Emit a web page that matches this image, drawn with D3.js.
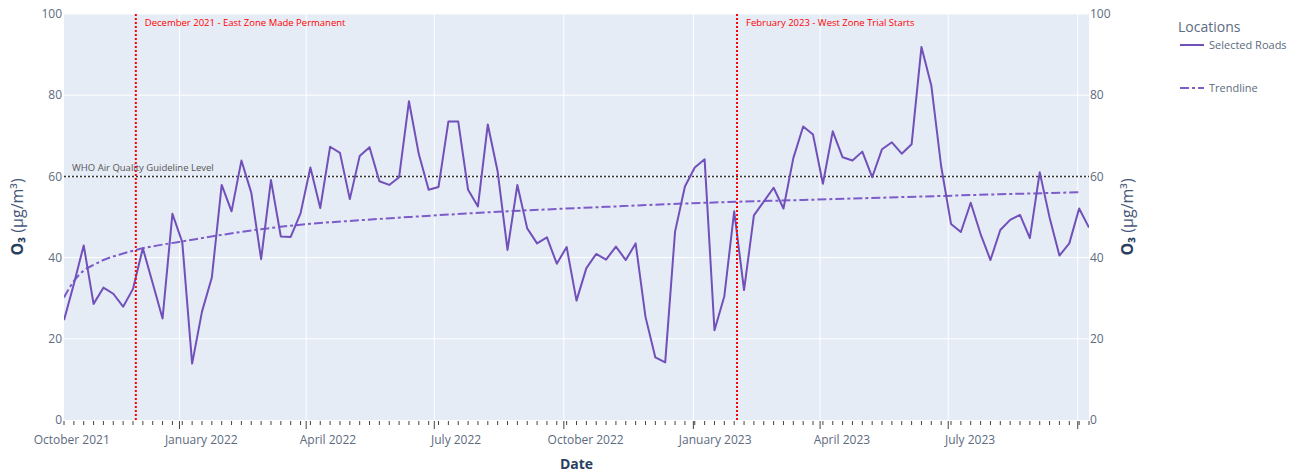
<!DOCTYPE html>
<meta charset="utf-8">
<script src="https://d3js.org/d3.v7.min.js"></script>
<style>
  body { margin: 0; background: #fff; }
  text { font-family: "Open Sans", sans-serif; }
</style>
<div id="my_dataviz"></div>
<script>

// weekly readings (Mondays), first and last week
var firstWeek = "2021-10-11",
    lastWeek = "2023-10-09";

// O3 weekly means, Selected Roads (µg/m3)
var o3 = [
  24.6, 33.5, 43.0, 28.6, 32.6, 31.1, 27.9, 32.3, 42.3, 33.7,
  25.0, 50.8, 43.8, 13.9, 26.7, 35.1, 57.9, 51.4, 63.9, 56.0,
  39.6, 59.1, 45.2, 45.1, 50.9, 62.2, 52.2, 67.3, 65.8, 54.4,
  65.0, 67.2, 58.8, 57.9, 59.8, 78.5, 65.5, 56.7, 57.4, 73.5,
  73.5, 56.7, 52.6, 72.8, 61.2, 41.9, 57.9, 47.2, 43.5, 45.0,
  38.5, 42.6, 29.4, 37.4, 40.9, 39.5, 42.7, 39.4, 43.5, 25.4,
  15.4, 14.2, 46.4, 57.5, 62.2, 64.2, 22.1, 30.5, 51.4, 32.0,
  50.4, 53.8, 57.2, 52.1, 64.5, 72.3, 70.3, 58.2, 71.1, 64.7,
  63.9, 66.1, 59.8, 66.7, 68.4, 65.6, 67.9, 91.9, 82.4, 62.5,
  48.3, 46.3, 53.5, 45.8, 39.4, 46.8, 49.3, 50.5, 44.8, 61.0,
  49.9, 40.5, 43.5, 52.1, 47.4
];

// trendline read at a few week indexes
var trendWeek  = [0, 1, 2, 3, 4, 6, 8, 10, 12, 16, 20, 24, 30, 35, 45, 55, 65, 75, 85, 95, 103];
var trendValue = [30.2, 34.2, 36.8, 38.2, 39.4, 41.0, 42.3, 43.2, 44.0, 45.6, 47.0, 48.1, 49.2, 50.0, 51.4, 52.5, 53.5, 54.2, 54.9, 55.6, 56.1];

var yTicks = [0, 20, 40, 60, 80, 100];

var eventDates  = ["2021-12-01", "2023-02-01"];
var eventLabels = ["December 2021 - East Zone Made Permanent", "February 2023 - West Zone Trial Starts"];

var guideline = 60,
    guidelineLabel = "WHO Air Quality Guideline Level";

var seriesNames = ["Selected Roads", "Trendline"];

// layout
var W = 1295, H = 475;
var margin = {top: 14, left: 64, right: 206, bottom: 55},
    width = W - margin.left - margin.right,
    height = H - margin.top - margin.bottom;

var lineColor = "#7150ba",
    trendColor = "#7c5ccb",
    tickColor = "#5c6b80",
    titleColor = "#2a3f5f";

var parse = d3.utcParse("%Y-%m-%d");
var weeks = d3.utcMonday.range(parse(firstWeek), d3.utcDay.offset(parse(lastWeek), 1));
var data = weeks.map(function(d, i) { return {date: d, value: o3[i]}; });
var trend = trendWeek.map(function(w, i) { return {date: weeks[w], value: trendValue[i]}; });

var svg = d3.select("#my_dataviz")
  .append("svg")
    .attr("width", W)
    .attr("height", H);

var g = svg.append("g")
    .attr("transform", "translate(" + margin.left + "," + margin.top + ")");

var x = d3.scaleUtc()
  .domain([weeks[0], weeks[weeks.length - 1]])
  .range([0, width]);

var y = d3.scaleLinear()
  .domain([0, 100])
  .range([height, 0]);

// background
g.append("rect")
  .attr("width", width)
  .attr("height", height)
  .attr("fill", "#e5ecf6");

svg.append("clipPath").attr("id", "clip")
  .append("rect").attr("width", width).attr("height", height);

// grid
var quarters = d3.utcMonth.every(3).range(d3.utcMonth.floor(x.domain()[0]), d3.utcDay.offset(x.domain()[1], 1));
var majorIn = quarters.filter(function(d) { return d >= x.domain()[0] && d <= x.domain()[1]; });

g.selectAll(".hgrid")
  .data(yTicks.slice(1))
  .enter().append("line")
    .attr("x1", 0).attr("x2", width)
    .attr("y1", function(d) { return y(d); })
    .attr("y2", function(d) { return y(d); })
    .attr("stroke", "#fff").attr("stroke-width", 1);

g.selectAll(".vgrid")
  .data(majorIn)
  .enter().append("line")
    .attr("x1", function(d) { return x(d); })
    .attr("x2", function(d) { return x(d); })
    .attr("y1", 0).attr("y2", height)
    .attr("stroke", "#fff").attr("stroke-width", 1);

// x ticks: weekly minor, quarterly major
var minor = d3.utcMonday.range(x.domain()[0], d3.utcDay.offset(x.domain()[1], 1));
g.selectAll(".minor")
  .data(minor)
  .enter().append("line")
    .attr("x1", function(d) { return x(d); })
    .attr("x2", function(d) { return x(d); })
    .attr("y1", height + 1).attr("y2", height + 5)
    .attr("stroke", "#444").attr("stroke-width", 1);

g.selectAll(".major")
  .data(majorIn)
  .enter().append("line")
    .attr("x1", function(d) { return x(d); })
    .attr("x2", function(d) { return x(d); })
    .attr("y1", height + 1).attr("y2", height + 9)
    .attr("stroke", "#444").attr("stroke-width", 1);

// month labels sit mid-month, hidden if outside the range
var fmt = d3.utcFormat("%B %Y");
g.selectAll(".xlab")
  .data(quarters.filter(function(d) {
    var p = x(new Date(+d + 15.5 * 864e5));
    return p >= 0 && p <= width;
  }))
  .enter().append("text")
    .attr("x", function(d) { return x(new Date(+d + 15.5 * 864e5)); })
    .attr("y", height + 24)
    .attr("text-anchor", "middle")
    .attr("font-size", 12)
    .attr("fill", tickColor)
    .text(fmt);

// y labels both sides
g.selectAll(".ylabL")
  .data(yTicks)
  .enter().append("text")
    .attr("x", -2)
    .attr("y", function(d) { return y(d); })
    .attr("dy", "0.35em")
    .attr("text-anchor", "end")
    .attr("font-size", 12)
    .attr("fill", tickColor)
    .text(function(d) { return d; });

g.selectAll(".ylabR")
  .data(yTicks)
  .enter().append("text")
    .attr("x", width + 1)
    .attr("y", function(d) { return y(d); })
    .attr("dy", "0.35em")
    .attr("text-anchor", "start")
    .attr("font-size", 12)
    .attr("fill", tickColor)
    .text(function(d) { return d; });

// axis titles
function yTitle(px) {
  var t = svg.append("text")
    .attr("transform", "translate(" + px + "," + (margin.top + height / 2) + ") rotate(-90)")
    .attr("text-anchor", "middle")
    .attr("font-size", 16)
    .attr("fill", titleColor);
  t.append("tspan").attr("font-weight", "bold").text("O₃");
  t.append("tspan").attr("fill", "#46587a").text(" (μg/m³)");
}
yTitle(23);
yTitle(1133);

svg.append("text")
  .attr("x", margin.left + width / 2 - 0)
  .attr("y", H - 6)
  .attr("text-anchor", "middle")
  .attr("font-size", 14)
  .attr("font-weight", "bold")
  .attr("fill", titleColor)
  .text("Date");

// marks
var plot = g.append("g").attr("clip-path", "url(#clip)");

plot.append("line")
  .attr("x1", 0).attr("x2", width)
  .attr("y1", y(guideline)).attr("y2", y(guideline))
  .attr("stroke", "#333").attr("stroke-width", 1.5)
  .attr("stroke-dasharray", "2,2");

plot.append("text")
  .attr("x", 8).attr("y", y(guideline) - 5)
  .attr("font-size", 9.5)
  .attr("fill", "#555")
  .text(guidelineLabel);

var line = d3.line()
  .x(function(d) { return x(d.date); })
  .y(function(d) { return y(d.value); });

plot.append("path")
  .datum(trend)
  .attr("fill", "none")
  .attr("stroke", trendColor)
  .attr("stroke-width", 2)
  .attr("stroke-dasharray", "9,3,3,3")
  .attr("d", line.curve(d3.curveMonotoneX));

plot.append("path")
  .datum(data)
  .attr("fill", "none")
  .attr("stroke", lineColor)
  .attr("stroke-width", 2)
  .attr("stroke-linejoin", "round")
  .attr("d", line.curve(d3.curveLinear));

eventDates.forEach(function(d, i) {
  var ex = x(parse(d));
  plot.append("line")
    .attr("x1", ex).attr("x2", ex)
    .attr("y1", 0).attr("y2", height)
    .attr("stroke", "#ff0000").attr("stroke-width", 2)
    .attr("stroke-dasharray", "2,2");
  plot.append("text")
    .attr("x", ex + 9).attr("y", 12)
    .attr("font-size", 9.5)
    .attr("fill", "#ff0000")
    .text(eventLabels[i]);
});

// legend
var lg = svg.append("g").attr("transform", "translate(1178,0)");
lg.append("text")
  .attr("x", 0).attr("y", 32)
  .attr("font-size", 14)
  .attr("fill", tickColor)
  .text("Locations");

seriesNames.forEach(function(name, i) {
  var ly = i === 0 ? 45 : 88;
  lg.append("line")
    .attr("x1", 2).attr("x2", 26)
    .attr("y1", ly).attr("y2", ly)
    .attr("stroke", i === 0 ? lineColor : trendColor)
    .attr("stroke-width", 2)
    .attr("stroke-dasharray", i === 0 ? null : "9,3,3,3");
  lg.append("text")
    .attr("x", 31).attr("y", ly)
    .attr("dy", "0.35em")
    .attr("font-size", 11)
    .attr("fill", tickColor)
    .text(name);
});

</script>
